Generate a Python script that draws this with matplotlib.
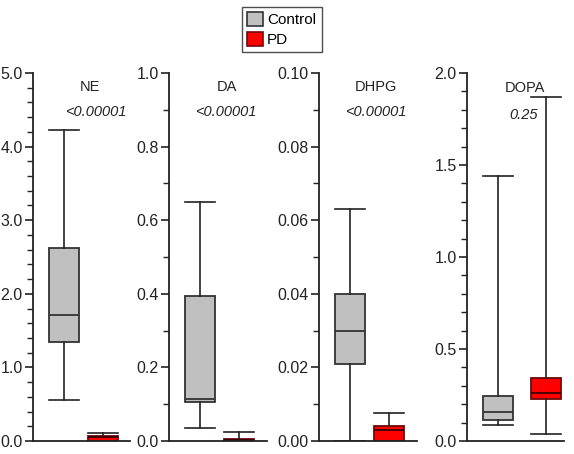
import matplotlib
matplotlib.use("Agg")
import matplotlib.pyplot as plt
from matplotlib.patches import Patch
from matplotlib.ticker import MultipleLocator, FormatStrFormatter

plt.rcParams['font.family'] = ['Liberation Sans', 'DejaVu Sans']

# ---- data ----
panels = ["NE", "DA", "DHPG", "DOPA"]
pvalues = ["<0.00001", "<0.00001", "<0.00001", "0.25"]
groups = ["Control", "PD"]

# [whislo, q1, median, q3, whishi]
ne_control = [0.56, 1.35, 1.71, 2.62, 4.23]
ne_pd = [0.0, 0.0, 0.05, 0.07, 0.11]
da_control = [0.035, 0.105, 0.113, 0.393, 0.65]
da_pd = [0.0, 0.0, 0.003, 0.005, 0.025]
dhpg_control = [0.0, 0.021, 0.030, 0.040, 0.063]
dhpg_pd = [0.0, 0.0, 0.003, 0.004, 0.0077]
dopa_control = [0.085, 0.115, 0.155, 0.245, 1.44]
dopa_pd = [0.04, 0.23, 0.26, 0.34, 1.87]

ymax = [5.0, 1.0, 0.10, 2.0]
major_step = [1.0, 0.2, 0.02, 0.5]
minor_step = [0.2, 0.1, 0.01, 0.1]
tick_fmt = ["%.1f", "%.1f", "%.2f", "%.1f"]

data = [(ne_control, ne_pd), (da_control, da_pd),
        (dhpg_control, dhpg_pd), (dopa_control, dopa_pd)]

# ---- layout (pixels) ----
W, H = 574, 454
fig = plt.figure(figsize=(W / 100, H / 100), dpi=100)

axes_px = [(33, 130), (169, 267), (319, 417), (467, 564)]
y_bottom, y_top = 441, 73
centers_px = [(31, 70), (31, 70), (31, 70), (31, 79)]
box_px = 30

fill_colors = ["#c0c0c0", "#ff0000"]
edge_colors = ["#333333", "#6e0a0a"]
med_colors = ["#333333", "#3a0000"]

title_pos = [(90, 87), (227, 87), (376, 87), (525, 88)]
p_pos = [(96, 112), (226, 112), (376, 112), (524, 115)]

for i, ax_px in enumerate(axes_px):
    x0, x1 = ax_px
    ax = fig.add_axes([x0 / W, 1 - y_bottom / H, (x1 - x0) / W, (y_bottom - y_top) / H])
    c0, c1 = centers_px[i]
    spacing = c1 - c0
    left = 1 - c0 / spacing
    right = 2 + (x1 - x0 - c1) / spacing
    width = box_px / spacing
    for g in range(2):
        lo, q1, med, q3, hi = data[i][g]
        stats = [dict(whislo=lo, q1=q1, med=med, q3=q3, whishi=hi, fliers=[])]
        ax.bxp(stats, positions=[g + 1], widths=width, capwidths=width,
               patch_artist=True, showfliers=False,
               boxprops=dict(facecolor=fill_colors[g], edgecolor=edge_colors[g], linewidth=1.3),
               medianprops=dict(color=med_colors[g], linewidth=1.3),
               whiskerprops=dict(color="#222222", linewidth=1.2),
               capprops=dict(color="#222222", linewidth=1.2))
    ax.set_xlim(left, right)
    ax.set_ylim(0, ymax[i])
    ax.yaxis.set_major_locator(MultipleLocator(major_step[i]))
    ax.yaxis.set_minor_locator(MultipleLocator(minor_step[i]))
    ax.yaxis.set_major_formatter(FormatStrFormatter(tick_fmt[i]))
    ax.set_xticks([])
    for s in ["top", "right"]:
        ax.spines[s].set_visible(False)
    for s in ["left", "bottom"]:
        ax.spines[s].set_linewidth(1.3)
        ax.spines[s].set_color("#222222")
    ax.tick_params(axis="y", which="major", length=6, width=1.2, labelsize=11.5,
                   color="#222222", labelcolor="#222222", pad=1.5)
    ax.tick_params(axis="y", which="minor", length=4, width=1.0, color="#222222")
    ax.patch.set_alpha(0)

    tx, ty = title_pos[i]
    fig.text(tx / W, 1 - ty / H, panels[i], ha="center", va="center", fontsize=10.5, color="#222222")
    px, py = p_pos[i]
    fig.text(px / W, 1 - py / H, pvalues[i], ha="center", va="center", fontsize=10.5,
             style="italic", color="#222222")

handles = [Patch(facecolor=fill_colors[g], edgecolor=edge_colors[g], linewidth=1.2, label=groups[g])
           for g in range(2)]
leg = fig.legend(handles=handles, loc="upper left", bbox_to_anchor=(242 / W, 1 - 7 / H),
                 frameon=True, fancybox=False, fontsize=11, handlelength=1.0, handleheight=1.0,
                 handletextpad=0.3, borderpad=0.35, labelspacing=0.3, borderaxespad=0)
leg.get_frame().set_edgecolor("#222222")
leg.get_frame().set_linewidth(1.0)

fig.savefig("out.png", dpi=100)
